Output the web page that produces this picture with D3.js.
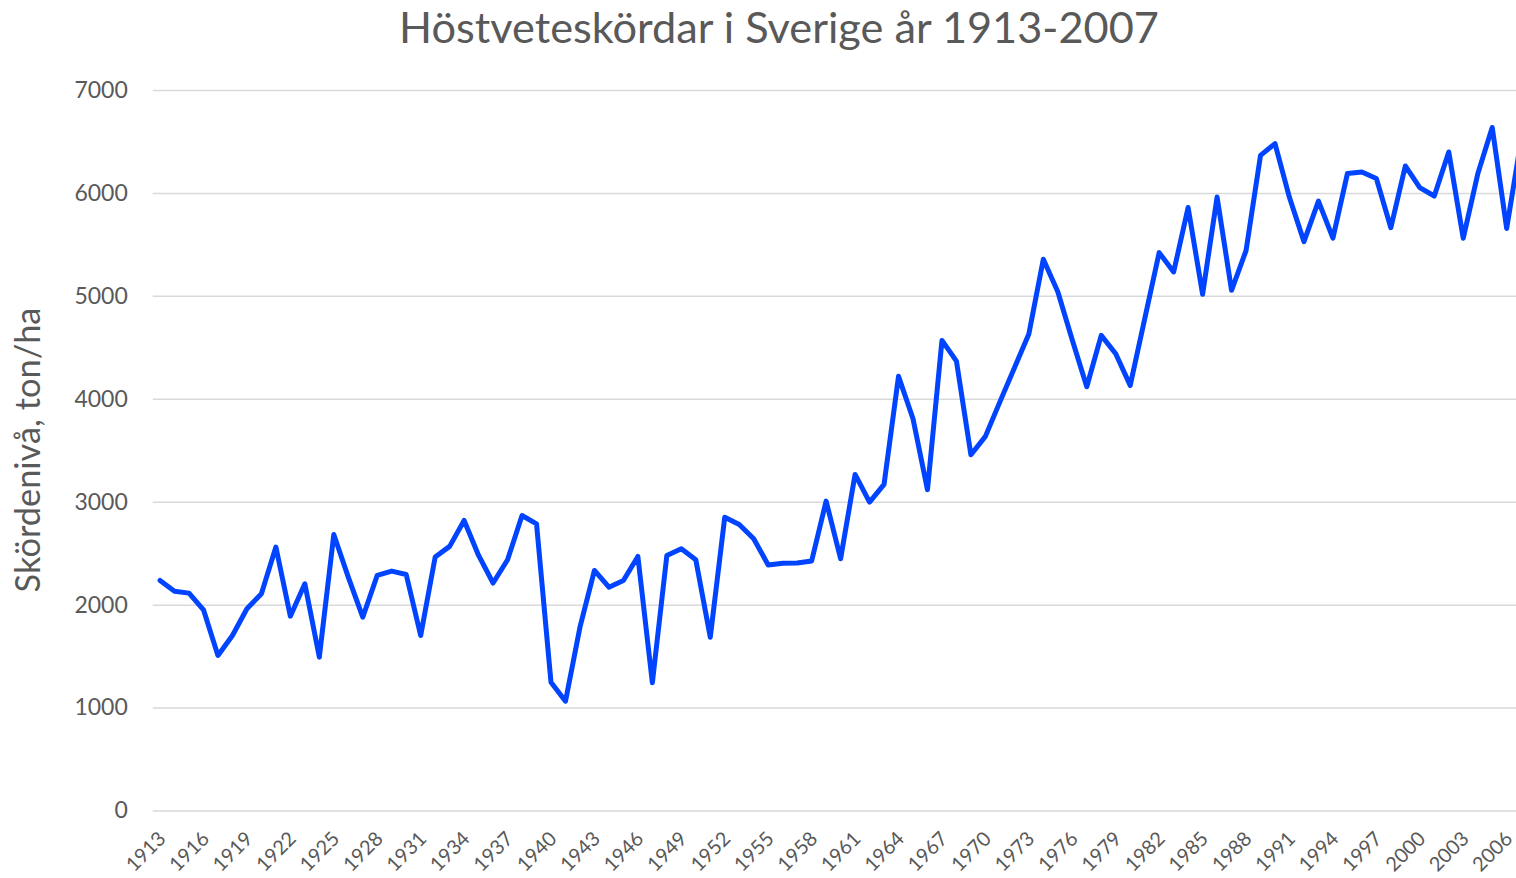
<!DOCTYPE html>
<html>
<head>
<meta charset="utf-8">
<script src="https://cdn.jsdelivr.net/npm/d3@7"></script>
<style>
  body { margin: 0; background: #fff; overflow: hidden; }
  text { font-family: Lato, "Open Sans", sans-serif; fill: #595959; }
</style>
</head>
<body>
<div id="chartArea"></div>
<script>
// chart data
const years = d3.range(1913, 2008);
const yields = [
  2235, 2130, 2112, 1950, 1506, 1700, 1960, 2106, 2559, 1888,
  2203, 1490, 2682, 2267, 1878, 2284, 2326, 2293, 1700, 2462,
  2566, 2818, 2478, 2210, 2436, 2866, 2785, 1247, 1062, 1781,
  2332, 2170, 2235, 2468, 1241, 2478, 2543, 2436, 1684, 2850,
  2779, 2640, 2385, 2402, 2405, 2424, 3006, 2446, 3265, 2996,
  3168, 4218, 3806, 3117, 4567, 4366, 3456, 3635, 3970, 4300,
  4630, 5355, 5040, 4571, 4117, 4616, 4437, 4130, 4775, 5420,
  5232, 5858, 5015, 5960, 5054, 5440, 6365, 6479, 5955, 5527,
  5920, 5561, 6188, 6204, 6140, 5662, 6262, 6052, 5970, 6398,
  5560, 6183, 6636, 5655, 6520
];
const yTicks = [0, 1000, 2000, 3000, 4000, 5000, 6000, 7000];
const xTickYears = years.filter(y => (y - 1913) % 3 === 0);

const titleText = "Höstveteskördar i Sverige år 1913-2007";
const yTitleText = "Skördenivå, ton/ha";

const W = 1516, H = 878;
const svg = d3.select("#chartArea").append("svg")
  .attr("width", W)
  .attr("height", H);

// plot area (right side runs past the window edge like the original)
const plotLeft = 152.8, plotRight = 1528.4, plotTop = 90, plotBottom = 810.5;

const x = d3.scalePoint().domain(years).range([plotLeft, plotRight]).padding(0.5);
const y = d3.scaleLinear().domain([0, 7000]).range([plotBottom, plotTop]);

// fit a text element to a given width
function fitWidth(sel, target) {
  const node = sel.node();
  const fs = parseFloat(sel.attr("font-size"));
  const w = node.getComputedTextLength();
  sel.attr("font-size", fs * target / w);
}

// gridlines + y labels
const yAxis = svg.append("g")
  .attr("transform", `translate(${plotLeft},0)`)
  .call(d3.axisLeft(y).tickValues(yTicks).tickSize(-(W - plotLeft)).tickPadding(25).tickFormat(d3.format("d")));
yAxis.select(".domain").remove();
yAxis.selectAll(".tick line").attr("stroke", "#d9d9d9").attr("stroke-width", 1.5);
yAxis.selectAll(".tick text")
  .attr("font-size", 23)
  .attr("font-family", "Lato, sans-serif")
  .attr("fill", "#595959");

// x labels, rotated
svg.append("g").selectAll("text")
  .data(xTickYears)
  .enter()
  .append("text")
  .attr("transform", d => `translate(${x(d) + 2},${835}) rotate(-45)`)
  .attr("text-anchor", "end")
  .attr("dy", "0.35em")
  .attr("font-size", 20)
  .text(d => d);

// the line
const line = d3.line()
  .x((d, i) => x(years[i]))
  .y(d => y(d));

svg.append("path")
  .datum(yields)
  .attr("d", line)
  .attr("fill", "none")
  .attr("stroke", "#0044ff")
  .attr("stroke-width", 5)
  .attr("stroke-linejoin", "round")
  .attr("stroke-linecap", "round");

// title
const title = svg.append("text")
  .attr("x", 779)
  .attr("y", 43)
  .attr("text-anchor", "middle")
  .attr("font-size", 40)
  .text(titleText);
fitWidth(title, 760);

// y axis title
const yTitle = svg.append("text")
  .attr("transform", `translate(40,450) rotate(-90)`)
  .attr("text-anchor", "middle")
  .attr("font-size", 30)
  .text(yTitleText);
fitWidth(yTitle, 285);
</script>
</body>
</html>
